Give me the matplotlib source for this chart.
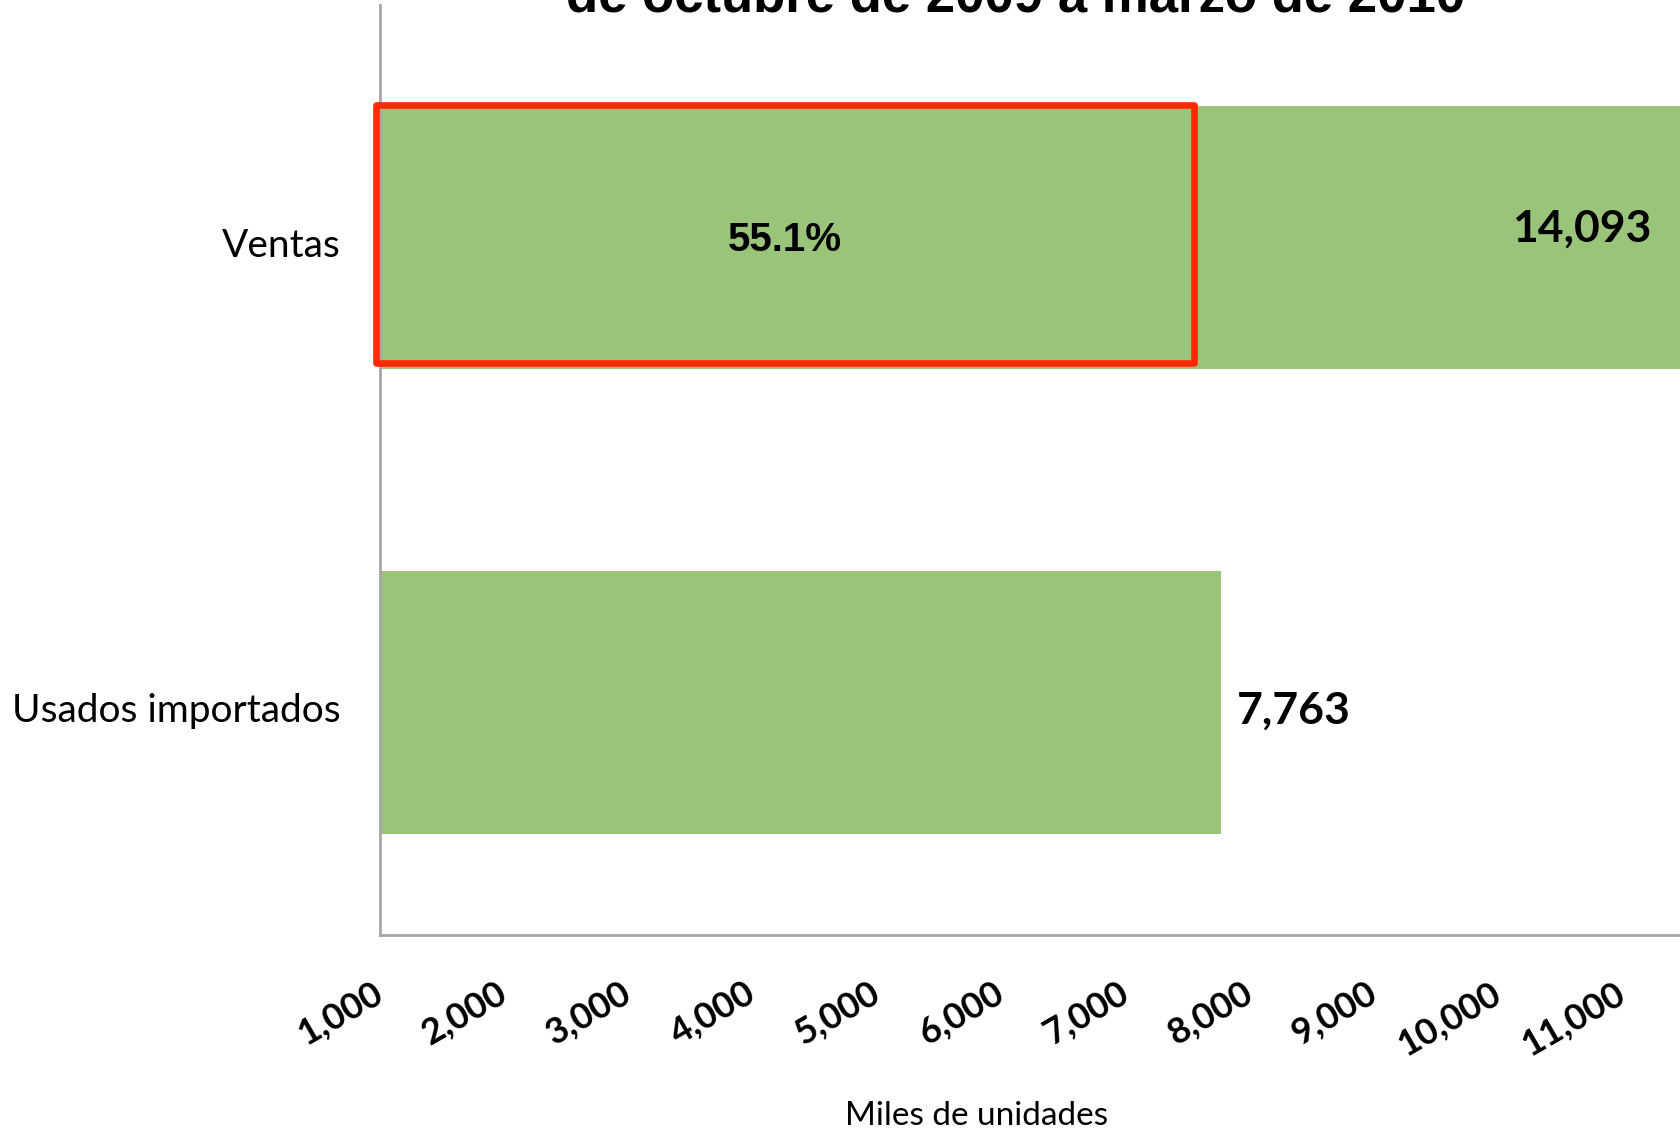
import matplotlib
matplotlib.use("Agg")
import matplotlib.pyplot as plt
import matplotlib.transforms as mtransforms
from matplotlib.patches import Rectangle

#############################################################################

categorias = ['Usados importados', 'Ventas']
valores = [7763, 14093]
etiquetas = ['7,763', '14,093']
ticks_x = [1000, 2000, 3000, 4000, 5000, 6000, 7000, 8000, 9000, 10000, 11000]
tick_labels = ['1,000', '2,000', '3,000', '4,000', '5,000', '6,000',
               '7,000', '8,000', '9,000', '10,000', '11,000']
porcentaje = '55.1%'
titulo = 'de octubre de 2009 a marzo de 2010'

VERDE = '#9AC479'
ROJO = '#FF2A00'
GRIS = '#A6A6A6'

#############################################################################

W, H = 1680, 1131
fig = plt.figure(figsize=(W / 100, H / 100), dpi=100)

# el eje se sale por la derecha (imagen recortada)
px_per_1000 = 124.3
x0, x1 = 1000, 16000
ax_w = (x1 - x0) / 1000 * px_per_1000
ax = fig.add_axes([380 / W, (H - 935) / H, ax_w / W, 930 / H])

ax.barh([0, 1], valores, left=0, height=0.566, color=VERDE, zorder=2)
ax.set_xlim(x0, x1)
ax.set_ylim(-0.5, 1.5)

for s in ['top', 'right']:
    ax.spines[s].set_visible(False)
for s in ['left', 'bottom']:
    ax.spines[s].set_color(GRIS)
    ax.spines[s].set_linewidth(2)

ax.set_yticks([0, 1])
ax.set_yticklabels(categorias, fontsize=28, family='Lato')
ax.tick_params(axis='y', length=0, pad=28)
bajar = mtransforms.ScaledTranslation(0, -5 / 100, fig.dpi_scale_trans)
for lbl in ax.get_yticklabels():
    lbl.set_transform(lbl.get_transform() + bajar)

ax.set_xticks(ticks_x)
ax.set_xticklabels(tick_labels, rotation=30, ha='right', va='center',
                   rotation_mode='anchor', fontsize=26, fontweight='bold',
                   family='Lato')
ax.tick_params(axis='x', length=0, pad=40)

# etiquetas de valor
ax.text(10670, 1.02, etiquetas[1], ha='center', va='center', fontsize=32,
        fontweight='bold', family='Lato', zorder=3)
ax.annotate(etiquetas[0], xy=(valores[0], -0.018), xytext=(12, 0),
            textcoords='offset points', ha='left', va='center', fontsize=32,
            fontweight='bold', family='Lato')

# recuadro rojo con el porcentaje
caja = Rectangle((965, 1 - 0.27), 7545 - 965, 0.555, fill=False,
                 edgecolor=ROJO, linewidth=4.8, joinstyle='round',
                 clip_on=False, zorder=4)
ax.add_patch(caja)
ax.text(4260, 0.995, porcentaje, ha='center', va='center', fontsize=29,
        fontweight='bold', family='Liberation Sans', zorder=5)

# titulo (cortado arriba)
fig.text(1016 / W, 1 - 12 / H, titulo, ha='center', va='baseline',
         fontsize=38, fontweight='bold', family='Liberation Sans')

fig.text(977 / W, 1 - 1116 / H, 'Miles de unidades', ha='center',
         va='center', fontsize=24, family='Lato')

fig.savefig('out.png', dpi=100)
